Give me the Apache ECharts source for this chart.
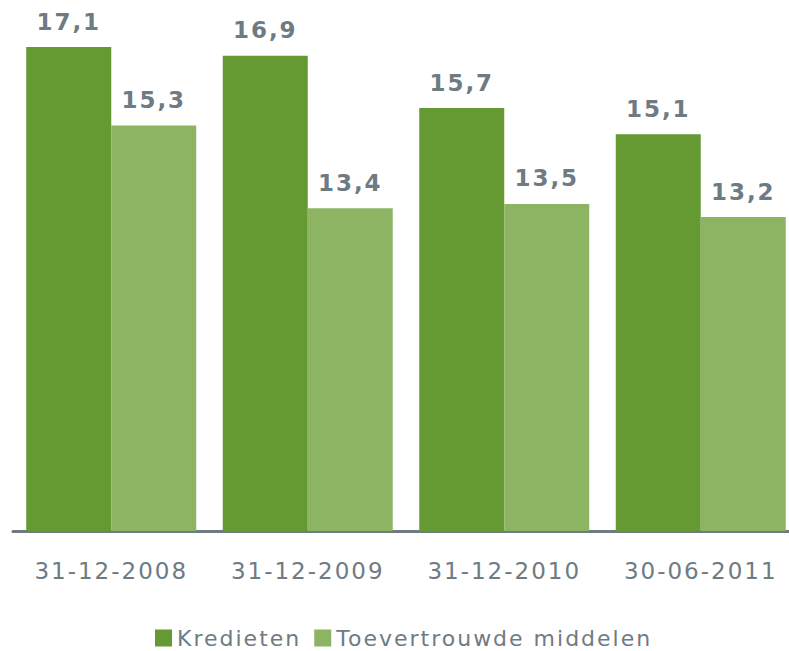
<!DOCTYPE html>
<html>
<head>
<meta charset="utf-8">
<script src="https://cdn.jsdelivr.net/npm/echarts@6/dist/echarts.min.js"></script>
<style>
  html, body { margin: 0; padding: 0; background: #fff; }
  #chart { width: 789px; height: 651px; letter-spacing: 2px; }
</style>
</head>
<body>
<div id="chart"></div>
<script>
  var categories = ['31-12-2008', '31-12-2009', '31-12-2010', '30-06-2011'];
  var kredieten = [17.1, 16.9, 15.7, 15.1];
  var toevertrouwd = [15.3, 13.4, 13.5, 13.2];

  var grey = '#6e7b83';
  var font = 'DejaVu Sans';

  // waarden met komma tonen
  function fmt(p) {
    return String(p.value).replace('.', ',');
  }

  var myChart = echarts.init(document.getElementById('chart'), null, {renderer: 'svg'});
  var option = {
    animation: false,
    grid: {left: 13, width: 786, top: 47, bottom: 120, outerBoundsMode: 'none'},
    legend: {
      left: 150,
      top: 622,
      itemWidth: 17,
      itemHeight: 17,
      itemGap: 31,
      icon: 'rect',
      textStyle: {fontFamily: font, fontSize: 22, color: grey},
      data: ['Kredieten', 'Toevertrouwde middelen']
    },
    xAxis: {
      type: 'category',
      data: categories,
      axisLine: {lineStyle: {color: grey, width: 3}},
      axisTick: {show: false},
      axisLabel: {fontFamily: font, fontSize: 23, color: grey, margin: 28}
    },
    yAxis: {
      type: 'value',
      min: 6,
      max: 17.1,
      show: false,
      splitLine: {show: false}
    },
    series: [
      {
        name: 'Kredieten',
        type: 'bar',
        data: kredieten,
        barWidth: 85,
        barGap: '0%',
        itemStyle: {color: '#659a32'},
        label: {
          show: true, position: 'top', distance: 14, formatter: fmt,
          fontFamily: font, fontSize: 23, fontWeight: 'bold', color: grey
        }
      },
      {
        name: 'Toevertrouwde middelen',
        type: 'bar',
        data: toevertrouwd,
        barWidth: 85,
        barGap: '0%',
        itemStyle: {color: '#8db462'},
        label: {
          show: true, position: 'top', distance: 14, formatter: fmt,
          fontFamily: font, fontSize: 23, fontWeight: 'bold', color: grey
        }
      }
    ]
  };
  myChart.setOption(option);
</script>
</body>
</html>
